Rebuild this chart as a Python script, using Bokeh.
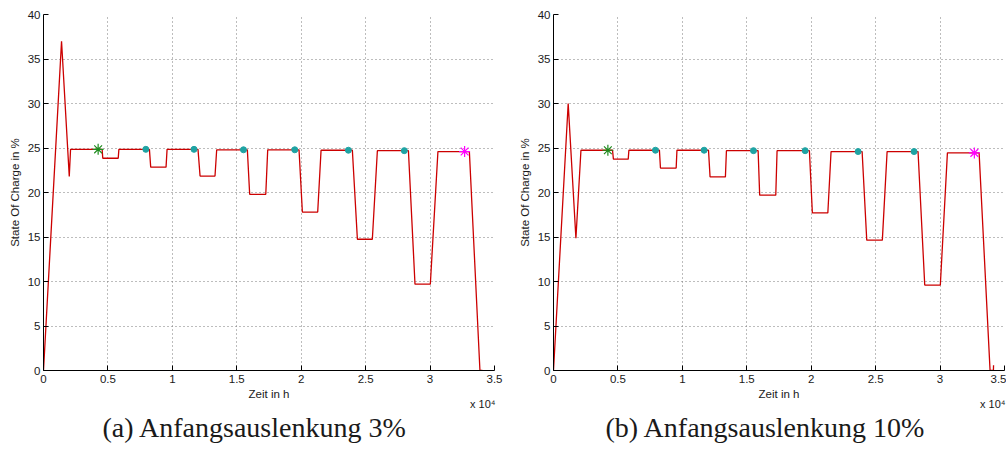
from bokeh.plotting import figure
from bokeh.layouts import row
from bokeh.models import FixedTicker, Title
from bokeh.embed import file_html
from bokeh.resources import INLINE

# ---- data: time in h, state of charge in % ----
left_t = [0, 1400, 2000, 2100, 4550, 4600, 5800, 5850, 8220, 8320, 9510, 9590,
          11990, 12150, 13310, 13440, 15820, 16000, 17250, 17400, 19830, 20090,
          21280, 21540, 23970, 24360, 25520, 25910, 28320, 28830, 30020, 30610,
          33050, 33870, 34060]
left_soc = [0, 37.0, 21.8, 24.85, 24.85, 23.85, 23.85, 24.85, 24.85, 22.85, 22.85, 24.85,
            24.85, 21.85, 21.85, 24.8, 24.8, 19.8, 19.8, 24.8, 24.8, 17.8,
            17.8, 24.75, 24.75, 14.75, 14.75, 24.7, 24.7, 9.7, 9.7, 24.6,
            24.6, 0, 0]
left_start_t = [4240]
left_start_soc = [24.85]
left_dot_t = [7940, 11680, 15520, 19500, 23660, 28000]
left_dot_soc = [24.85, 24.85, 24.8, 24.8, 24.75, 24.7]
left_end_t = [32680]
left_end_soc = [24.6]

right_t = [0, 1140, 1740, 2130, 4580, 4650, 5800, 5850, 8220, 8300, 9520, 9580,
           12030, 12150, 13340, 13420, 15880, 16000, 17250, 17350, 19860, 20090,
           21290, 21540, 23950, 24310, 25520, 25890, 28290, 28810, 30020, 30570,
           33030, 33880, 34140, 34150]
right_soc = [0, 30.0, 14.85, 24.75, 24.75, 23.75, 23.75, 24.75, 24.75, 22.75, 22.75, 24.75,
             24.75, 21.75, 21.75, 24.7, 24.7, 19.7, 19.7, 24.7, 24.7, 17.7,
             17.7, 24.6, 24.6, 14.65, 14.65, 24.6, 24.6, 9.6, 9.6, 24.45,
             24.45, 0, 0, 0.6]
right_start_t = [4220]
right_start_soc = [24.75]
right_dot_t = [7910, 11690, 15520, 19530, 23640, 27980]
right_dot_soc = [24.75, 24.75, 24.7, 24.7, 24.6, 24.6]
right_end_t = [32660]
right_end_soc = [24.45]

x_ticks = [0, 5000, 10000, 15000, 20000, 25000, 30000, 35000]
x_tick_labels = ["0", "0.5", "1", "1.5", "2", "2.5", "3", "3.5"]
y_ticks = [0, 5, 10, 15, 20, 25, 30, 35, 40]

captions = ["(a) Anfangsauslenkung 3%", "(b) Anfangsauslenkung 10%"]
x_label = "Zeit in h"
y_label = "State Of Charge in %"
x_scale_note = "x 10\u2074"

SANS = "Liberation Sans"
SERIF = "Liberation Serif"


def make_fig(t, soc, st, ss, dt, ds, et, es, caption, cap_offset, width, mbr):
    p = figure(width=width, height=450, x_range=(0, 35000), y_range=(0, 40),
               output_backend="svg", toolbar_location=None,
               min_border_left=43, min_border_right=mbr,
               min_border_top=14, min_border_bottom=80)
    p.outline_line_color = None
    p.background_fill_color = "white"
    p.border_fill_color = "white"

    p.xaxis.ticker = FixedTicker(ticks=x_ticks)
    p.xaxis.major_label_overrides = {float(k): v for k, v in zip(x_ticks, x_tick_labels)}
    p.yaxis.ticker = FixedTicker(ticks=y_ticks)
    p.xaxis.axis_label = x_label
    p.yaxis.axis_label = y_label
    for ax in (p.xaxis, p.yaxis):
        ax.axis_line_color = "black"
        ax.axis_line_width = 1
        ax.major_tick_in = 5
        ax.major_tick_out = 0
        ax.major_tick_line_color = "black"
        ax.minor_tick_line_color = None
        ax.major_label_text_font = SANS
        ax.major_label_text_font_size = "11.5px"
        ax.major_label_text_color = "#1a1a1a"
        ax.axis_label_text_font = SANS
        ax.axis_label_text_font_size = "11.5px"
        ax.axis_label_text_font_style = "normal"
        ax.axis_label_text_color = "#1a1a1a"
    p.xaxis.major_label_standoff = 4
    p.xaxis.axis_label_standoff = 2
    p.yaxis.major_label_standoff = 3
    p.yaxis.axis_label_standoff = 4

    for g in (p.xgrid, p.ygrid):
        g.grid_line_color = "#7a7a7a"
        g.grid_line_dash = "1 3"
        g.grid_line_width = 1

    p.line(t, soc, line_color="#cc0000", line_width=1.3)
    p.scatter(dt, ds, marker="circle", size=6, fill_color="#1fa3a3",
              line_color="#1fa3a3")
    p.scatter(st, ss, marker="asterisk", size=11, line_color="#1e8c1e", line_width=1.2)
    p.scatter(et, es, marker="asterisk", size=11, line_color="#ff00ff", line_width=1.2)

    p.add_layout(Title(text=x_scale_note, align="right", offset=-1, standoff=-15,
                       text_font=SANS, text_font_size="11px",
                       text_font_style="normal", text_color="#1a1a1a"), "below")
    p.add_layout(Title(text=caption, align="left", offset=cap_offset, standoff=15,
                       text_font=SERIF, text_font_size="28px",
                       text_font_style="normal", text_color="#1a1a1a"), "below")
    return p


p1 = make_fig(left_t, left_soc, left_start_t, left_start_soc, left_dot_t, left_dot_soc,
              left_end_t, left_end_soc, captions[0], 59, 510, 16)
p2 = make_fig(right_t, right_soc, right_start_t, right_start_soc, right_dot_t, right_dot_soc,
              right_end_t, right_end_soc, captions[1], 52, 496, 2)

layout = row(p1, p2)
open("out.html", "w").write(file_html(layout, INLINE))
